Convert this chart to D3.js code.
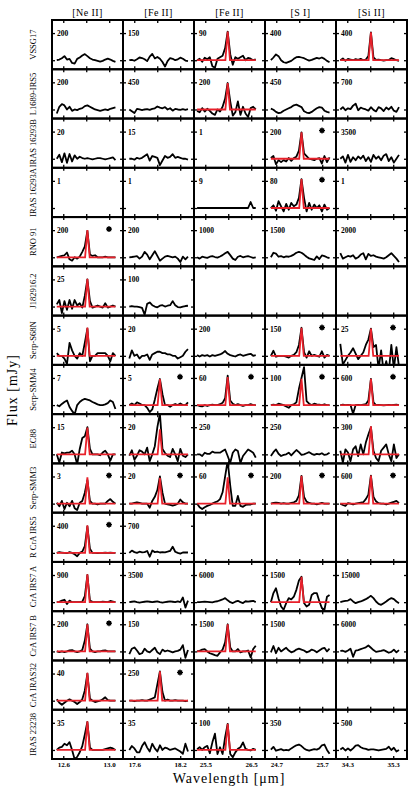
<!doctype html>
<head>
  <meta charset="utf-8">
  <script src="https://cdnjs.cloudflare.com/ajax/libs/d3/7.8.2/d3.min.js"></script>
</head>
<style>
  body { margin: 0; background: white; }
  text { font-family: "Liberation Serif", "DejaVu Serif", serif; }
</style>
<body>
<div id="chart"></div>
<script>
// columns: lines
const lineNames = ["[Ne II]", "[Fe II]", "[Fe II]", "[S I]", "[Si II]"];
const lineCenters = [12.81, 17.935, 25.988, 25.249, 34.815];
const sampleStep = [0.0222, 0.0333, 0.0555, 0.0555, 0.0555];
const tickMid = [12.8, 17.9, 26.0, 25.2, 34.8];
const tickStep = [0.2, 0.3, 0.5, 0.5, 0.5];
const tickLabels = [["12.6", "13.0"], ["17.6", "18.2"], ["25.5", "26.5"], ["24.7", "25.7"], ["34.3", "35.3"]];

// rows: sources
const sources = ["VSSG17", "L1689-IRS5", "IRAS 16293B", "IRAS 16293A", "RNO 91", "J182916.2",
  "Serp-S68N", "Serp-SMM4", "EC88", "Serp-SMM3", "R CrA IRS5", "CrA IRS7 A", "CrA IRS7 B",
  "CrA IRAS32", "IRAS 23238"];

// labelled flux tick in each panel (mJy), null = no axis
const fluxTicks = [
  [200, 150, 90, 400, 400],
  [200, 450, 200, 450, 700],
  [20, 15, 1, 200, 3500],
  [1, 1, 9, 80, 1],
  [200, 200, 1000, 1500, 2000],
  [25, 100, null, null, null],
  [5, 20, 200, 150, 25],
  [7, 5, 60, 100, 600],
  [15, 20, 250, 250, 300],
  [3, 20, 60, 200, 600],
  [400, 700, null, null, null],
  [900, 3500, 6000, 1500, 15000],
  [200, 150, 1500, 1500, 6000],
  [40, 250, null, null, null],
  [35, 35, 100, 350, 500]
];

// peak of the fitted line (mJy), null = no fit
const fitPeaks = [
  [null, null, 95, null, 410],
  [null, null, 195, null, null],
  [null, null, null, 195, null],
  [null, null, null, 85, null],
  [200, null, null, null, null],
  [25.5, null, null, null, null],
  [5.2, null, null, 155, 25],
  [null, 4.8, 62, 97, 580],
  [14.8, 18.5, null, null, 310],
  [2.9, 19, 58, 205, 620],
  [405, null, null, null, null],
  [920, null, null, 1400, null],
  [200, null, 1500, null, null],
  [41, 270, null, null, null],
  [37, null, 96, null, null]
];

// star marks
const marked = [
  [0, 0, 0, 0, 0], [0, 0, 0, 0, 0], [0, 0, 0, 1, 0], [0, 0, 0, 1, 0], [1, 0, 0, 0, 0],
  [0, 0, 0, 0, 0], [0, 0, 0, 1, 1], [0, 1, 1, 1, 1], [0, 0, 0, 0, 0], [1, 1, 1, 1, 1],
  [1, 0, 0, 0, 0], [0, 0, 0, 0, 0], [1, 0, 0, 0, 0], [0, 1, 0, 0, 0], [0, 0, 0, 0, 0]
];

// spectra (mJy), one list per line, sample 12 sits on the line centre
const specVSSG17 = [
  [0, 5, 15, 30, 5, 10, -20, -25, 10, 20, 35, 45, 30, 15, 5, 0, -5, -10, -5, 5, 12, 5, -5, -12],
  [0, 2, -3, 5, 15, 12, 5, -5, 20, 35, 10, 18, 8, -10, -35, -5, 12, 8, 0, 5, 14, 8, -2, -5],
  [0, 5, -5, 8, 3, 10, -20, -25, 5, 10, 15, 40, 95, 20, -15, 10, 5, 10, 15, 0, 8, 5, 0, 3],
  [0, 40, 85, 60, 0, -30, -40, -25, -10, 20, 45, 50, 40, 30, 10, -5, 5, 20, 35, 25, 40, 20, -10, -30],
  [0, 25, -10, 20, 10, 0, 15, 5, 20, 0, 10, 60, 410, 40, 5, 10, 0, -5, 0, 5, 30, 15, 0, -10]
];
const specL1689 = [
  [-30, 20, 40, 30, 0, 20, -10, 0, -5, 5, 10, 25, 30, 20, 10, 0, -5, -10, -5, 0, -5, 5, 10, 15],
  [0, -30, -60, 10, 0, -10, 0, 5, -5, 10, 20, 50, 30, 20, 40, 0, 20, -20, 10, 0, -5, 5, -5, 5],
  [-10, -20, 10, -15, 5, -10, -30, -40, 0, -15, 20, 80, 195, 60, -45, -20, 60, -40, 20, -30, -55, 10, 20, 0],
  [15, -5, -40, -60, -50, -20, 0, 20, 40, 70, 80, 60, 40, -30, -50, -60, -40, -10, 20, 40, 30, -20, -40, -50],
  [0, 60, -20, 30, 10, 100, 150, -20, 50, 20, 0, -30, 60, -10, -50, 60, 30, -40, 50, 0, 70, -30, -60, 60]
];
const spec16293B = [
  [0, 3, -2.5, 4, -3, 3.5, -2, 2.5, 0, 1.5, 0.5, 0, 0.5, 0, -0.5, 0, 0.5, 0.5, 0, -0.5, 0, 0.5, 1, -1],
  [0, 0, -0.5, 0.5, 0, 0.5, 1.5, 2.5, -1, 1.5, 1, 0.5, -3.5, -1, 1.5, 0.5, 1, 2.5, 0.5, 1, 0.5, 0, 0, -0.5],
  null,
  [5, 20, -40, -10, -25, -10, -20, 5, -15, 5, 15, 60, 195, 40, 20, 0, -5, -10, 0, 5, -35, 20, -25, 10],
  [0, 300, -500, 500, -400, 200, -200, 300, 0, 400, -300, 200, -400, 500, 0, 300, -200, 400, 600, -300, 200, -500, 0, 500]
];
const spec16293A = [
  null,
  null,
  [0, 0, 0, 0, 0, 0, 0, 0, 0, 0, 0, 0, 0, 0, 0, 0, 0, 0, 0, 0, 0, 2, 0, 0],
  [0, 8, -8, 20, 5, -10, 12, -5, 15, 5, 10, 30, 85, 30, -10, 15, -5, 10, 0, 8, -10, 10, -5, 0],
  null
];
const specRNO91 = [
  [0, 5, 10, 15, 35, -15, -25, 0, -10, 5, 40, 80, 195, 20, 10, 15, 0, 0, 0, 5, 0, 0, 0, 0],
  [0, 2, 5, 8, -10, 5, 40, 20, -15, 15, 45, 10, -25, -10, 5, 10, 5, 0, 5, -10, -35, 5, -15, 5],
  [0, -50, 20, 0, -20, 20, 40, 10, -10, 30, 80, 150, 200, 80, -50, -100, 20, 50, 0, 20, 40, 10, -20, 0],
  [0, 250, 200, 30, 60, 0, 50, 30, 80, 150, 250, 300, 250, 150, 30, -60, -100, -150, 50, -100, 100, 60, 0, -50],
  [300, -100, 0, 100, 50, 150, -100, 0, 200, 300, -150, 250, 100, 150, 50, 0, -50, -100, 0, 150, 300, 100, -100, -350]
];
const specJ182916 = [
  [2, 6, -6, 5, -3, 6, -2, 6, 1, 3, -1, 10, 25, 5, -1, 0, 1, 0, -1, 3, -1, 0, 1, 0],
  [0, 2, 0, 0, -2, -5, -30, 10, 15, 5, 0, -3, 3, 5, 0, 3, 5, 20, 5, -2, -3, 0, 2, 3],
  null, null, null
];
const specS68N = [
  [0.5, 0, 0, -0.5, -1.5, 2.4, 1, 0, -0.5, 0.5, 0, 2.4, 5, -1, 0, 0, 0.5, 0.5, 0.5, 0.5, 0, -1, 0.5, 0],
  [-2, 4, 0, 1, -2, 0, 0, 1, -3, 1, 2, 3, 3, 2, 2, 1, 1, 0, 0, -2, -1, 0, 3, 5],
  [5, -5, 5, 0, 5, -5, 5, 0, 5, 10, 20, 35, 15, 5, 0, -5, 5, 10, 0, 5, 10, 15, 0, 5],
  [0, 28, -5, 0, 0, 0, -5, -10, 0, 5, 20, 60, 155, 20, -10, 25, 0, 5, 0, -5, 25, -10, 5, 0],
  [11, -8, -4, 0, 3, 7, 2, -3, 0, 3, 10, 15, 25, 8, 10, -12, 5, -15, -5, -15, 10, -12, 8, -10]
];
const specSMM4 = [
  [0, -0.3, 0.3, 0.8, 1.2, -0.5, -1.5, -2.4, 0, 0.8, 1.3, 1.6, 1.4, 1.2, 0.8, 0.5, 0.2, 0, 0, 0.2, 0.5, 1.2, 0.8, -1],
  [0, 0.3, 0, 0.5, 0.3, 0, 0, -0.5, -1.3, -0.8, 1, 3, 4.8, 2, 0, 0, -0.3, 0, 0.2, 0, 0.3, 0, 0, 0.5],
  [0, -2, -3, 0, -2, 0, 1, 0, 0, 2, 5, 15, 65, 10, 3, 0, 2, 0, -2, 0, 0, 2, 0, 0],
  [0, 2, 0, 5, 3, 0, -5, -10, 0, 3, 10, 60, 100, 140, 15, 5, 0, 5, 3, 2, 0, 3, 0, 0],
  [0, 10, 0, 5, 0, -190, 0, 5, 0, 10, 20, 100, 580, 60, 0, 5, 0, -5, 0, 5, 0, 5, 10, 0]
];
const specEC88 = [
  [0, -4.5, 1, 0.5, 1, 1, 2, 0, -5.5, 3, 9, 10, 15, 3, 0, 0, 0, -0.5, 1, 2, 0, -3.5, 0, 0],
  [-1, 3, -4, -1, 3, 2, 0, 5, -5, 0, 6, 20, 30, 4, 1, -1, -2, 4, 0, -5, 4, -1, -2, 0],
  [0, 0, -15, 15, 5, 5, 25, 15, 15, 15, 30, 45, -15, -78, 15, 45, 30, -78, -15, 15, 45, 30, 15, -30],
  [-15, 20, 45, 5, -15, -5, 0, 15, -10, 15, 40, 20, -5, 0, 10, 20, 5, -5, 5, 0, 10, -5, 0, 15],
  [40, -90, 55, 20, -75, 55, 90, -20, 110, 0, 130, 220, 300, 40, -40, -75, 40, 75, 110, 0, -75, 110, -40, 0]
];
const specSMM3 = [
  [0.1, -0.3, 0.3, -0.6, 0.1, -0.3, 0.3, -0.5, -0.7, 0.1, 0.3, 1.2, 2.6, 0.3, 0, 0, -0.1, 0, 0, 0, 0.3, 0.5, 0.2, 0],
  [0, 0, 0.5, 1, 0.5, 0, 0, 0, -3, 2, 5, 10, 20, 8, 0, -0.5, -1, -1.5, -1, 0, 3, 1, 0, 0],
  [0, -8, -12, -8, -5, -3, 0, 3, 5, 10, 25, 60, 95, 40, -5, -5, 17, -5, -7, -3, -2, -2, 0, 0],
  [0, 5, 8, 5, 0, 3, 0, 0, 5, 10, 20, 60, 205, 50, 15, 5, 0, 0, -5, 0, 5, 0, 0, 0],
  [0, -30, -50, 10, 0, -20, 0, 10, 20, 30, 100, 200, 620, 150, 50, 10, 0, 0, -20, 0, 20, 40, 60, 10]
];
const specIRS5 = [
  [0, 10, 5, 0, -5, 10, 0, -20, -50, 0, 20, 100, 390, 60, 0, 0, -5, 0, 0, 5, 0, 5, 0, 0],
  [0, 60, 20, 0, 30, 15, 20, 50, -100, 60, 20, 30, 10, 20, 15, 30, 50, 160, 30, 0, -20, 10, 15, 10],
  null, null, null
];
const specIRS7A = [
  [0, 10, 50, 80, -60, 50, 0, 0, 0, 0, 20, 200, 900, 50, 10, 0, 0, 0, 20, 10, 0, 40, 20, 0],
  [0, 50, 100, 0, -50, 0, 50, 100, 50, 0, 50, 100, 0, -50, 0, 50, 100, 50, 0, 100, 0, 600, -700, 200],
  [0, 0, 50, 100, 50, 0, -50, 100, 200, 400, 600, 900, 400, 0, -200, 100, 300, 0, -200, 200, 100, 200, 300, 0],
  [0, 500, 770, 200, -240, -420, -50, 220, 150, 300, 680, 1200, 1400, -50, -240, -150, 400, 500, 500, 50, -330, -420, 300, 400],
  [0, 370, 700, 900, 1650, 400, -550, 0, 370, 1000, 1650, 2500, 3500, 2200, 370, -1000, -1500, -550, 370, 1500, 2200, 1650, 370, -550]
];
const specIRS7B = [
  [0, -5, 0, -5, 0, 8, 10, 0, -5, 0, 10, 80, 200, 20, 0, -5, 0, 0, 5, 8, 0, 0, 0, 0],
  [-15, 15, 22, 5, -15, -10, 15, 0, -5, 8, 20, -5, -15, 10, 0, 5, 0, -5, 0, 3, 10, 35, -35, 8],
  [0, 35, 100, 130, 0, -100, -150, -200, -240, -55, 100, 500, 1500, 220, 0, 0, 130, -55, 0, 0, 50, -330, 130, 310],
  [-50, 300, -100, 200, 0, 100, 200, 50, -50, 0, 100, 150, 100, 50, -50, 0, 100, 50, -50, 50, 150, 200, 0, 150],
  [100, 150, -100, 200, 600, -1200, 200, 300, 500, 700, 900, 1300, 800, 300, -100, 0, 100, 300, 0, -300, -100, 400, -200, 300]
];
const specIRAS32 = [
  [2, -3, -6, -3, 0, 2, 0, -2, -5, -2, 2, 15, 40, 3, 0, -2, -1, 0, 2, 5, 1, 0, 0, 0],
  [0, 0, -5, 0, 0, 5, 0, 0, 10, 20, 30, 150, 270, 80, 0, 10, 0, 0, 5, 0, 0, 0, -5, 0],
  null, null, null
];
const spec23238 = [
  [0, 3, 4, 8, 6, 10, 0, -12, -9, -3, 5, 20, 36, 3, 0, 0, 0, 0, 0, 1, 2, 3, 2, 0],
  [0, 5, 2, -3, -3, 5, 10, 3, -2, 8, 2, -2, 6, 0, 3, 2, 0, 1, 2, 0, -2, -5, 8, -2],
  [3, 10, 0, 10, 15, -12, 28, 60, -15, 10, -15, 47, 96, -15, -27, -9, 4, 10, 28, 4, 0, -2, 4, 0],
  [5, 40, -10, 0, 10, -5, 0, -5, 20, 40, 60, 70, 50, 20, 0, -10, 0, 10, 5, 20, 60, 70, 0, -50],
  [10, 40, -10, 30, -10, 30, 80, 90, 50, 30, 20, 0, 10, 10, 0, -10, 0, 10, 20, 60, 0, 40, -30, 0]
];

const spectra = [specVSSG17, specL1689, spec16293B, spec16293A, specRNO91, specJ182916,
  specS68N, specSMM4, specEC88, specSMM3, specIRS5, specIRS7A, specIRS7B, specIRAS32, spec23238];

// layout
const width = 415, height = 791;
const gridLeft = 52, gridTop = 20;
const panelW = 71, panelH = 739 / sources.length;
const red = '#e8202a';

const svg = d3.select('#chart').append('svg')
  .attr('width', width).attr('height', height);
const defs = svg.append('defs');

function styleAxis(g, size) {
  g.attr('font-family', '"Liberation Serif", serif')
    .attr('font-size', size)
    .attr('font-weight', 'bold');
  g.select('.domain').remove();
  g.selectAll('.tick line').attr('stroke', '#000').attr('stroke-width', 1.3);
  g.selectAll('.tick text').attr('fill', '#000');
}

// column headers
lineNames.forEach((n, c) => {
  svg.append('text')
    .attr('x', gridLeft + c * panelW + panelW / 2)
    .attr('y', 16)
    .attr('text-anchor', 'middle')
    .attr('font-size', 10)
    .attr('letter-spacing', 0.4)
    .text(n);
});

sources.forEach((name, r) => {
  const y0 = gridTop + r * panelH;

  svg.append('text')
    .attr('transform', `translate(36,${y0 + panelH / 2}) rotate(-90)`)
    .attr('text-anchor', 'middle')
    .attr('font-size', 8.5)
    .text(name);

  lineNames.forEach((ln, c) => {
    const x0 = gridLeft + c * panelW;
    const x = d3.scaleLinear()
      .domain([tickMid[c] - 1.49 * tickStep[c], tickMid[c] + 1.6 * tickStep[c]])
      .range([x0, x0 + panelW]);
    const xt = [tickMid[c] - tickStep[c], tickMid[c], tickMid[c] + tickStep[c]];
    const L = fluxTicks[r][c];
    const g = svg.append('g');

    g.append('g').attr('transform', `translate(0,${y0})`)
      .call(d3.axisBottom(x).tickValues(xt).tickSize(3).tickFormat(''))
      .call(styleAxis, 7);
    g.append('g').attr('transform', `translate(0,${y0 + panelH})`)
      .call(d3.axisTop(x).tickValues(xt).tickSize(3).tickFormat(''))
      .call(styleAxis, 7);

    if (r === sources.length - 1) {
      g.append('g').attr('transform', `translate(0,${y0 + panelH})`)
        .call(d3.axisBottom(x).tickValues([xt[0], xt[2]]).tickSize(0).tickPadding(3)
          .tickFormat((d, i) => tickLabels[c][i]))
        .call(styleAxis, 7);
    }

    if (L != null) {
      const y = d3.scaleLinear()
        .domain([-L / 3, L * 40 / 27])
        .range([y0 + panelH, y0]);

      g.append('g').attr('transform', `translate(${x0},0)`)
        .call(d3.axisRight(y).tickValues([0, L]).tickSize(3).tickPadding(2)
          .tickFormat(d => d === 0 ? '' : d))
        .call(styleAxis, 7.5);
      g.append('g').attr('transform', `translate(${x0 + panelW},0)`)
        .call(d3.axisLeft(y).tickValues([0, L]).tickSize(3).tickFormat(''))
        .call(styleAxis, 7);

      const clipId = `clip-${r}-${c}`;
      defs.append('clipPath').attr('id', clipId)
        .append('rect').attr('x', x0).attr('y', y0).attr('width', panelW).attr('height', panelH);
      const plot = g.append('g').attr('clip-path', `url(#${clipId})`);

      const spec = spectra[r][c];
      const wl = i => lineCenters[c] + (i - 12) * sampleStep[c];
      if (spec) {
        plot.append('path')
          .datum(spec)
          .attr('fill', 'none')
          .attr('stroke', '#000')
          .attr('stroke-width', 1.8)
          .attr('stroke-linejoin', 'round')
          .attr('d', d3.line().x((d, i) => x(wl(i))).y(d => y(d)));
      }
      const peak = fitPeaks[r][c];
      if (peak != null) {
        const dx = sampleStep[c];
        const lc = lineCenters[c];
        const fit = [[wl(0), 0], [lc - 0.9 * dx, 0], [lc, peak], [lc + 0.9 * dx, 0], [wl(spec.length - 1), 0]];
        plot.append('path')
          .datum(fit)
          .attr('fill', 'none')
          .attr('stroke', red)
          .attr('stroke-width', 1.8)
          .attr('d', d3.line().x(d => x(d[0])).y(d => y(d[1])));
      }
    }

    if (marked[r][c]) {
      const sx = x0 + panelW - 14, sy = y0 + 12;
      const star = g.append('g').attr('transform', `translate(${sx},${sy})`);
      star.append('rect')
        .attr('x', -2.2).attr('y', -2.2).attr('width', 4.4).attr('height', 4.4)
        .attr('fill', '#000');
      [0, 90].forEach(a => {
        star.append('line')
          .attr('x1', -3).attr('x2', 3)
          .attr('transform', `rotate(${a})`)
          .attr('stroke', '#000').attr('stroke-width', 1.2);
      });
    }

    g.append('rect')
      .attr('x', x0).attr('y', y0)
      .attr('width', panelW).attr('height', panelH)
      .attr('fill', 'none')
      .attr('stroke', '#000')
      .attr('stroke-width', 2);
  });
});

svg.append('text')
  .attr('transform', `translate(17,390) rotate(-90)`)
  .attr('text-anchor', 'middle')
  .attr('font-size', 14)
  .attr('letter-spacing', 1)
  .text('Flux [mJy]');

svg.append('text')
  .attr('x', 229)
  .attr('y', 783)
  .attr('text-anchor', 'middle')
  .attr('font-size', 14)
  .attr('letter-spacing', 1)
  .text('Wavelength [μm]');
</script>
</body>
